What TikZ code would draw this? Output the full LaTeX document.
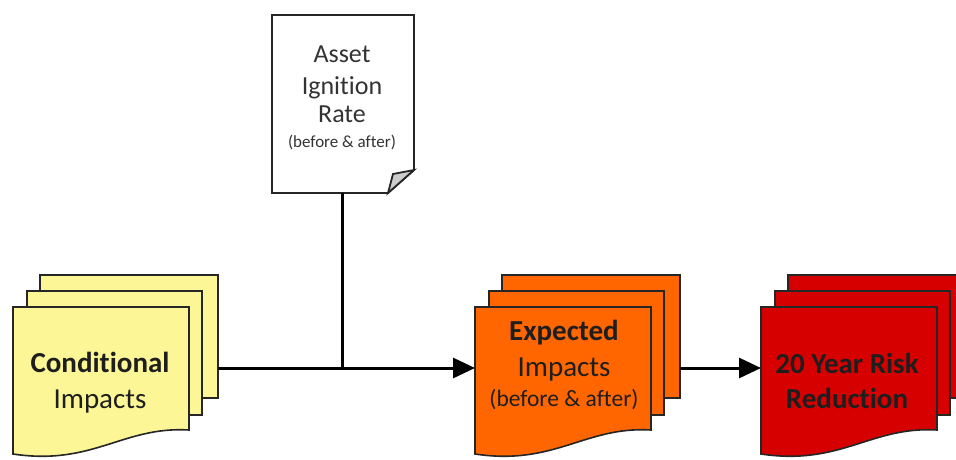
\documentclass[tikz,border=0pt]{standalone}
\usepackage{fontspec}
\setmainfont[Ligatures=NoCommon]{Carlito}
\usetikzlibrary{arrows.meta}
\definecolor{docyellow}{RGB}{252,246,150}
\definecolor{docorange}{RGB}{255,102,0}
\definecolor{docred}{RGB}{214,0,0}
\definecolor{flapgray}{RGB}{205,205,205}
\definecolor{txt}{RGB}{30,30,30}
\newcommand\mdoc[3]{%
  \begin{scope}[shift={(#1,0)}]
    \filldraw[sheet, fill=#2] (27,275) rectangle (205,398);
    \filldraw[sheet, fill=#2] (14,291) rectangle (189,415);
    \filldraw[sheet, fill=#2] (0,307) -- (176,307) -- (176,430)
      .. controls (110,426) and (80,466) .. (0,454) -- cycle;
    \coordinate (#3L) at (0,368);
    \coordinate (#3R) at (205,368);
  \end{scope}}
\begin{document}
\begin{tikzpicture}[x=1pt,y=-1pt,
  sheet/.style={draw=black!85, line width=1.6pt, line join=miter},
  conn/.style={draw=black, line width=3pt},
  arr/.style={conn, -{Triangle[length=22pt,width=20pt]}},
  big/.style={text=txt, anchor=base, inner sep=0pt, font=\fontsize{29}{34}\selectfont},
  bigb/.style={big, font=\fontsize{29}{34}\selectfont\bfseries},
  mid/.style={text=txt, anchor=base, inner sep=0pt, font=\fontsize{23.5}{28}\selectfont},
  ast/.style={text=black!80, anchor=base, inner sep=0pt, font=\fontsize{26}{30}\selectfont},
  asts/.style={text=black!80, anchor=base, inner sep=0pt, font=\fontsize{17}{20}\selectfont}]
\clip (0,0) rectangle (956,459);
\fill[white] (0,0) rectangle (956,459);

% Asset ignition rate document
\filldraw[sheet, fill=white, line width=1.8pt] (272,15) -- (414,15) -- (414,170) -- (388,193) -- (272,193) -- cycle;
\filldraw[sheet, fill=flapgray, line width=1.8pt] (388,193) -- (393,174) -- (414,170) -- cycle;
\coordinate (assetB) at (342,193);
\node[ast] (a1) at (342,62) {Asset};
\node[ast] (a2) at (342,94) {Ignition};
\node[ast] (a3) at (342,122) {Rate};
\node[asts] (a4) at (342,147) {(before \& after)};

% multi-documents
\mdoc{13}{docyellow}{cond}
\mdoc{475}{docorange}{exp}
\mdoc{761}{docred}{risk}

\node[bigb] (c1) at (100,372) {Conditional};
\node[big]  (c2) at (100,408) {Impacts};

\node[bigb] (e1) at (564,340) {Expected};
\node[big]  (e2) at (564,376) {Impacts};
\node[mid]  (e3) at (564,406) {(before \& after)};

\node[bigb] (r1) at (847,373) {20 Year Risk};
\node[bigb] (r2) at (847,408) {Reduction};

% connectors
\coordinate (junc) at (342,368);
\draw[conn] (assetB) -- (junc);
\draw[arr] (condR) -- (expL);
\draw[arr] (expR) -- (riskL);
\end{tikzpicture}
\end{document}
